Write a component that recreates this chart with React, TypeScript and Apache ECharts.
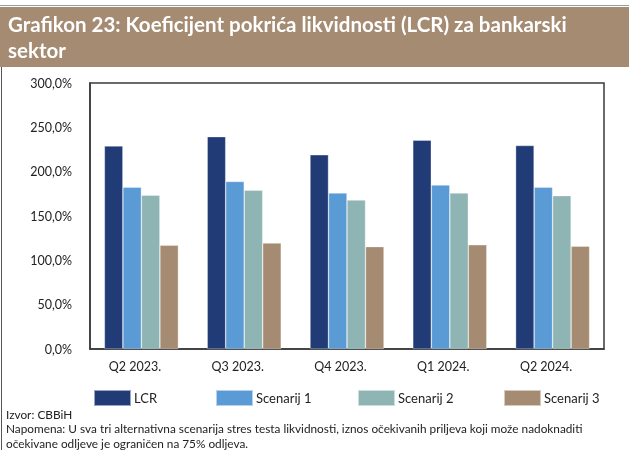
import React, { useEffect, useRef } from "react";
import * as echarts from "echarts";

const categories = ["Q2 2023.", "Q3 2023.", "Q4 2023.", "Q1 2024.", "Q2 2024."];
const lcr = [229, 239.5, 219, 235.5, 229.5];
const scenarij1 = [182.5, 189, 176, 185, 182.5];
const scenarij2 = [173.5, 179, 168, 176, 173];
const scenarij3 = [117, 119.5, 115.5, 117.5, 116];
const seriesNames = ["LCR", "Scenarij 1", "Scenarij 2", "Scenarij 3"];
const colors = ["#213B77", "#5B9BD5", "#8FB4B4", "#A48B72"];
const titleLines = ["Grafikon 23: Koeficijent pokrića likvidnosti (LCR) za bankarski", "sektor"];
const footerLines = [
  "Izvor: CBBiH",
  "Napomena: U sva tri alternativna scenarija stres testa likvidnosti, iznos očekivanih priljeva koji može nadoknaditi",
  "očekivane odljeve je ograničen na 75% odljeva.",
];

const FONT = "Lato, 'Noto Sans', sans-serif";

export default function App() {
  const ref = useRef<HTMLDivElement>(null);
  useEffect(() => {
    if (!ref.current) return;
    const chart = echarts.init(ref.current, undefined, { renderer: "svg" });
    const data = [lcr, scenarij1, scenarij2, scenarij3];
    const legendLefts = [93, 215, 357, 503];
    chart.setOption({
      animation: false,
      textStyle: { fontFamily: FONT },
      grid: {
        left: 90,
        right: 25,
        top: 83,
        bottom: 101,
        show: true,
        borderColor: "#3a3a3a",
        borderWidth: 1.5,
      },
      legend: seriesNames.map((n, i) => ({
        data: [n],
        left: legendLefts[i],
        top: 389,
        icon: "rect",
        itemWidth: 37,
        itemHeight: 16,
        padding: 0,
        textStyle: { fontSize: 13, color: "#222", fontFamily: FONT, padding: [0, 0, 0, -2] },
      })),
      xAxis: {
        type: "category",
        data: categories,
        axisLine: { show: true, lineStyle: { color: "#3a3a3a", width: 1.5 } },
        axisTick: { show: false },
        axisLabel: { color: "#222", fontSize: 12.5, margin: 11, fontFamily: FONT, padding: [0, 13, 0, 0] },
      },
      yAxis: {
        type: "value",
        min: 0,
        max: 300,
        interval: 50,
        splitLine: { show: false },
        axisLine: { show: true, lineStyle: { color: "#3a3a3a", width: 1.5 } },
        axisTick: { show: false },
        axisLabel: {
          color: "#222",
          fontSize: 12.5,
          margin: 18,
          fontFamily: FONT,
          formatter: (v: number) => v.toFixed(1).replace(".", ",") + "%",
        },
      },
      series: seriesNames.map((n, i) => ({
        name: n,
        type: "bar",
        data: data[i],
        barGap: "0%",
        barCategoryGap: "28%",
        itemStyle: { color: colors[i], borderColor: "rgba(255,255,255,0.55)", borderWidth: 0.6 },
      })),
      graphic: [
        { type: "line", shape: { x1: 0, y1: 5.5, x2: 629, y2: 5.5 }, style: { stroke: "#9a9a9a", lineWidth: 1 } },
        { type: "rect", shape: { x: 0, y: 7, width: 629, height: 60 }, style: { fill: "#A48B72" } },
        { type: "line", shape: { x1: 1.5, y1: 67, x2: 1.5, y2: 450 }, style: { stroke: "#555", lineWidth: 1 } },
        ...titleLines.map((t, i) => ({
          type: "text",
          left: 8,
          top: 13 + i * 26,
          style: { text: t, fill: "#fff", fontSize: 20.5, fontWeight: "bold", fontFamily: FONT },
        })),
        ...footerLines.map((t, i) => ({
          type: "text",
          left: 6,
          top: 408 + i * 14.5,
          style: { text: t, fill: "#222", fontSize: 11.8, fontFamily: FONT },
        })),
      ],
    });
    return () => chart.dispose();
  }, []);
  return <div ref={ref} style={{ position: "fixed", left: 0, top: 0, width: 629, height: 450 }} />;
}
